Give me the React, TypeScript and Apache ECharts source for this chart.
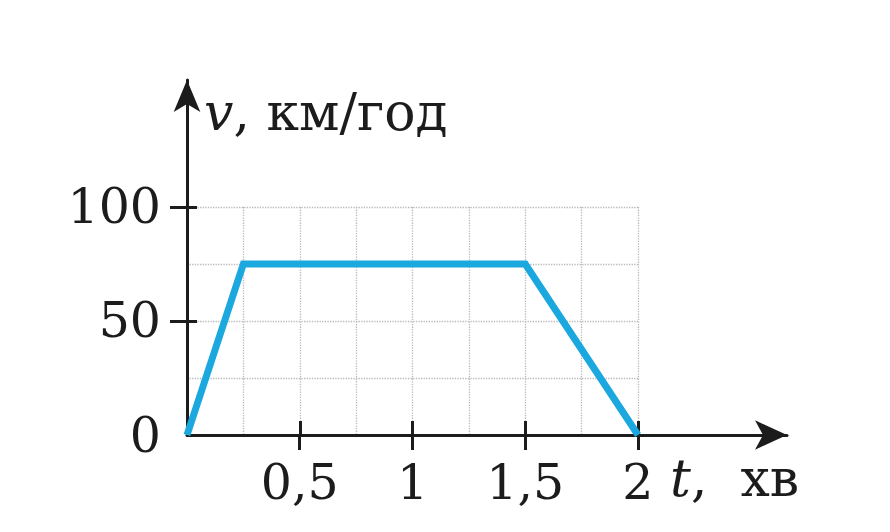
import React, { useEffect, useRef } from "react";
import * as echarts from "echarts";

const times = [0, 0.25, 1.5, 2];
const speeds = [0, 75, 75, 0];
const xTickValues = [0.5, 1, 1.5, 2];
const yTickValues = [50, 100];
const yLabelValues = [0, 50, 100];
const xAxisName = "t";
const xAxisUnit = "хв";
const yAxisName = "v";
const yAxisUnit = "км/год";

const FONT = "DejaVu Serif";
const INK = "#1c1c1c";

export default function App() {
  const ref = useRef<HTMLDivElement>(null);
  useEffect(() => {
    document.body.style.margin = "0";
    const chart = echarts.init(ref.current!, null, { renderer: "svg" });
    const fmt = (v: number) => String(v).replace(".", ",");
    const data = times.map((t, i) => [t, speeds[i]]);
    const tickStyle = { color: INK, width: 3 };
    const gridLine = { show: true, lineStyle: { color: "#b8b8b8", type: "dotted", width: 1.3 } };
    chart.setOption({
      animation: false,
      backgroundColor: "#ffffff",
      grid: [
        { left: 187, right: 103, top: 80, bottom: 97 },
        { left: 187, right: 252, top: 207, bottom: 97 },
        { left: 187, right: 252, top: 207, bottom: 97 },
      ],
      xAxis: [
        {
          gridIndex: 0,
          type: "value",
          min: 0,
          max: 2.661,
          splitLine: { show: false },
          axisLine: {
            show: true,
            lineStyle: { color: INK, width: 3 },
            symbol: ["none", "arrow"],
            symbolSize: [22, 32],
            symbolOffset: [0, 0],
          },
          axisTick: { show: true, customValues: xTickValues, length: 15, lineStyle: tickStyle },
          axisLabel: {
            show: true,
            customValues: xTickValues,
            formatter: fmt,
            margin: 23,
            fontFamily: FONT,
            fontSize: 49,
            color: INK,
          },
        },
        {
          gridIndex: 1,
          type: "value",
          min: 0,
          max: 2,
          interval: 0.25,
          axisLine: { show: false },
          axisLabel: { show: false },
          axisTick: { show: false },
          splitLine: gridLine,
        },
        {
          gridIndex: 2,
          type: "value",
          min: 0,
          max: 2,
          axisLine: { show: false },
          axisLabel: { show: false },
          splitLine: { show: false },
          axisTick: { show: true, inside: true, customValues: xTickValues, length: 14, lineStyle: tickStyle },
        },
      ],
      yAxis: [
        {
          gridIndex: 0,
          type: "value",
          min: 0,
          max: 155.7,
          splitLine: { show: false },
          axisLine: {
            show: true,
            lineStyle: { color: INK, width: 3 },
            symbol: ["none", "arrow"],
            symbolSize: [20, 32],
            symbolOffset: [0, 0],
          },
          axisTick: { show: true, customValues: yTickValues, length: 17, lineStyle: tickStyle },
          axisLabel: {
            show: true,
            customValues: yLabelValues,
            margin: 26,
            fontFamily: FONT,
            fontSize: 49,
            color: INK,
          },
        },
        {
          gridIndex: 1,
          type: "value",
          min: 0,
          max: 100,
          interval: 25,
          axisLine: { show: false },
          axisLabel: { show: false },
          axisTick: { show: false },
          splitLine: gridLine,
        },
        {
          gridIndex: 2,
          type: "value",
          min: 0,
          max: 100,
          axisLine: { show: false },
          axisLabel: { show: false },
          splitLine: { show: false },
          axisTick: { show: true, inside: true, customValues: yTickValues, length: 10, lineStyle: tickStyle },
        },
      ],
      series: [
        {
          type: "line",
          xAxisIndex: 1,
          yAxisIndex: 1,
          data,
          showSymbol: false,
          clip: false,
          lineStyle: { color: "#1ba8de", width: 7, join: "miter" },
          z: 5,
        },
      ],
      graphic: [
        {
          type: "text",
          left: 204,
          top: 86,
          style: {
            text: `{it|${yAxisName}}, ${yAxisUnit}`,
            fontFamily: FONT,
            fontSize: 52,
            fill: INK,
            rich: {
              it: { fontStyle: "italic", fontFamily: FONT, fontSize: 52, fill: INK },
            },
          },
        },
        {
          type: "text",
          left: 670,
          top: 452,
          style: {
            text: `{it|${xAxisName}},  ${xAxisUnit}`,
            fontFamily: FONT,
            fontSize: 52,
            fill: INK,
            rich: {
              it: { fontStyle: "italic", fontFamily: FONT, fontSize: 52, fill: INK },
            },
          },
        },
      ],
    });
    return () => chart.dispose();
  }, []);
  return <div ref={ref} style={{ width: 890, height: 532 }} />;
}
